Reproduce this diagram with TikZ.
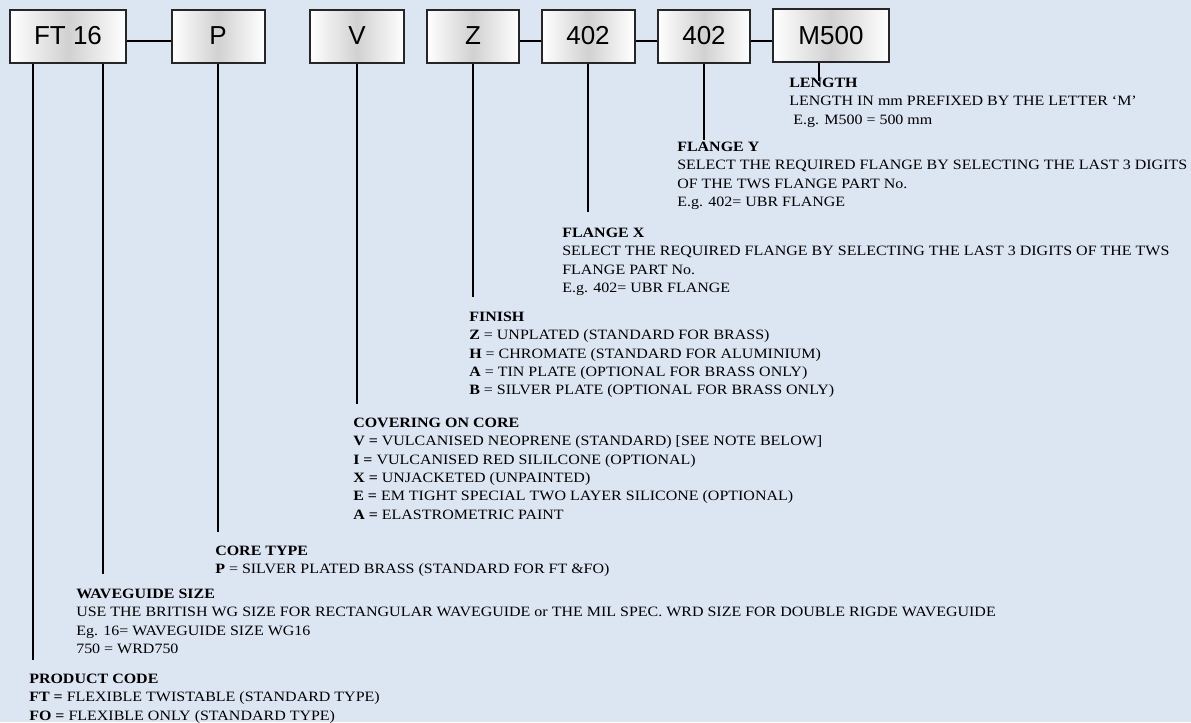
\documentclass[tikz,border=0pt]{standalone}
\usepackage{fontspec}
\setmainfont{Liberation Serif}[FakeStretch=1.12]
\newfontfamily\boxfont{Liberation Sans}
\definecolor{bg}{RGB}{220,230,242}
\begin{document}
\begin{tikzpicture}[x=0.75pt,y=-0.75pt,
  codebox/.style={draw=black!85, line width=1.5pt, left color=white, right color=white, middle color=black!18,
    font=\boxfont\fontsize{19.5}{22}\selectfont, inner sep=0pt, minimum height=39.75pt},
  conn/.style={line width=1.5pt, draw=black},
  desc/.style={anchor=north west, inner sep=0pt, align=left, font=\fontsize{10.7}{13.7}\selectfont}]
\fill[bg] (0,0) rectangle (1191,722);
\useasboundingbox (0,0) rectangle (1191,722);

% code boxes
\node[codebox, minimum width=87pt]    (ft)   at (68,36)  {FT 16};
\node[codebox, minimum width=69.75pt] (p)    at (218,36) {P};
\node[codebox, minimum width=70.5pt]  (v)    at (357,36) {V};
\node[codebox, minimum width=69pt]    (z)    at (473,36) {Z};
\node[codebox, minimum width=69.75pt] (fx)   at (588,36) {402};
\node[codebox, minimum width=69pt]    (fy)   at (704,36) {402};
\node[codebox, minimum width=87pt]    (m)    at (831,35.5) {M500};

% horizontal connectors
\draw[conn] ([yshift=-3.75pt]ft.east) -- ([yshift=-3.75pt]p.west);
\draw[conn] ([yshift=-3.75pt]z.east) -- ([yshift=-3.75pt]fx.west);
\draw[conn] ([yshift=-3.75pt]fx.east) -- ([yshift=-3.75pt]fy.west);
\draw[conn] ([yshift=-3.75pt]fy.east) -- ([yshift=-3.75pt]m.west |- fy.east);

% end points of the leader lines
\coordinate (ftA) at (33,660);
\coordinate (ftB) at (103,574);
\coordinate (pE)  at (218,532);
\coordinate (vE)  at (357,404);
\coordinate (zE)  at (473,297);
\coordinate (fxE) at (588,212);
\coordinate (fyE) at (704,140);
\coordinate (mE)  at (819,81);

\draw[conn] (ft.south -| ftA) -- (ftA);
\draw[conn] (ft.south -| ftB) -- (ftB);
\draw[conn] (p.south) -- (pE);
\draw[conn] (v.south) -- (vE);
\draw[conn] (z.south) -- (zE);
\draw[conn] (fx.south) -- (fxE);
\draw[conn] (fy.south) -- (fyE);
\draw[conn] (m.south -| mE) -- (mE);

% descriptions
\node[desc] (tlen) at (789,78) {\textbf{LENGTH}\\LENGTH IN mm PREFIXED BY THE LETTER ‘M’\\\ E.g. M500 = 500 mm};
\node[desc] (tfy) at (677,142) {\textbf{FLANGE Y}\\SELECT THE REQUIRED FLANGE BY SELECTING THE LAST 3 DIGITS\\OF THE TWS FLANGE PART No.\\E.g. 402= UBR FLANGE};
\node[desc] (tfx) at (562,228) {\textbf{FLANGE X}\\SELECT THE REQUIRED FLANGE BY SELECTING THE LAST 3 DIGITS OF THE TWS\\FLANGE PART No.\\E.g. 402= UBR FLANGE};
\node[desc] (tfin) at (469,312) {\textbf{FINISH}\\\textbf{Z} = UNPLATED (STANDARD FOR BRASS)\\\textbf{H} = CHROMATE (STANDARD FOR ALUMINIUM)\\\textbf{A} = TIN PLATE (OPTIONAL FOR BRASS ONLY)\\\textbf{B} = SILVER PLATE (OPTIONAL FOR BRASS ONLY)};
\node[desc] (tcov) at (353,418) {\textbf{COVERING ON CORE}\\\textbf{V =} VULCANISED NEOPRENE (STANDARD) [SEE NOTE BELOW]\\\textbf{I =} VULCANISED RED SILILCONE (OPTIONAL)\\\textbf{X =} UNJACKETED (UNPAINTED)\\\textbf{E =} EM TIGHT SPECIAL TWO LAYER SILICONE (OPTIONAL)\\\textbf{A =} ELASTROMETRIC PAINT};
\node[desc] (tcore) at (215,546) {\textbf{CORE TYPE}\\\textbf{P} = SILVER PLATED BRASS (STANDARD FOR FT \&FO)};
\node[desc] (twg) at (76,589) {\textbf{WAVEGUIDE SIZE}\\USE THE BRITISH WG SIZE FOR RECTANGULAR WAVEGUIDE or THE MIL SPEC. WRD SIZE FOR DOUBLE RIGDE WAVEGUIDE\\Eg. 16= WAVEGUIDE SIZE WG16\\750 = WRD750};
\node[desc] (tpc) at (29,674) {\textbf{PRODUCT CODE}\\\textbf{FT =} FLEXIBLE TWISTABLE (STANDARD TYPE)\\\textbf{FO =} FLEXIBLE ONLY (STANDARD TYPE)};
\end{tikzpicture}
\end{document}
